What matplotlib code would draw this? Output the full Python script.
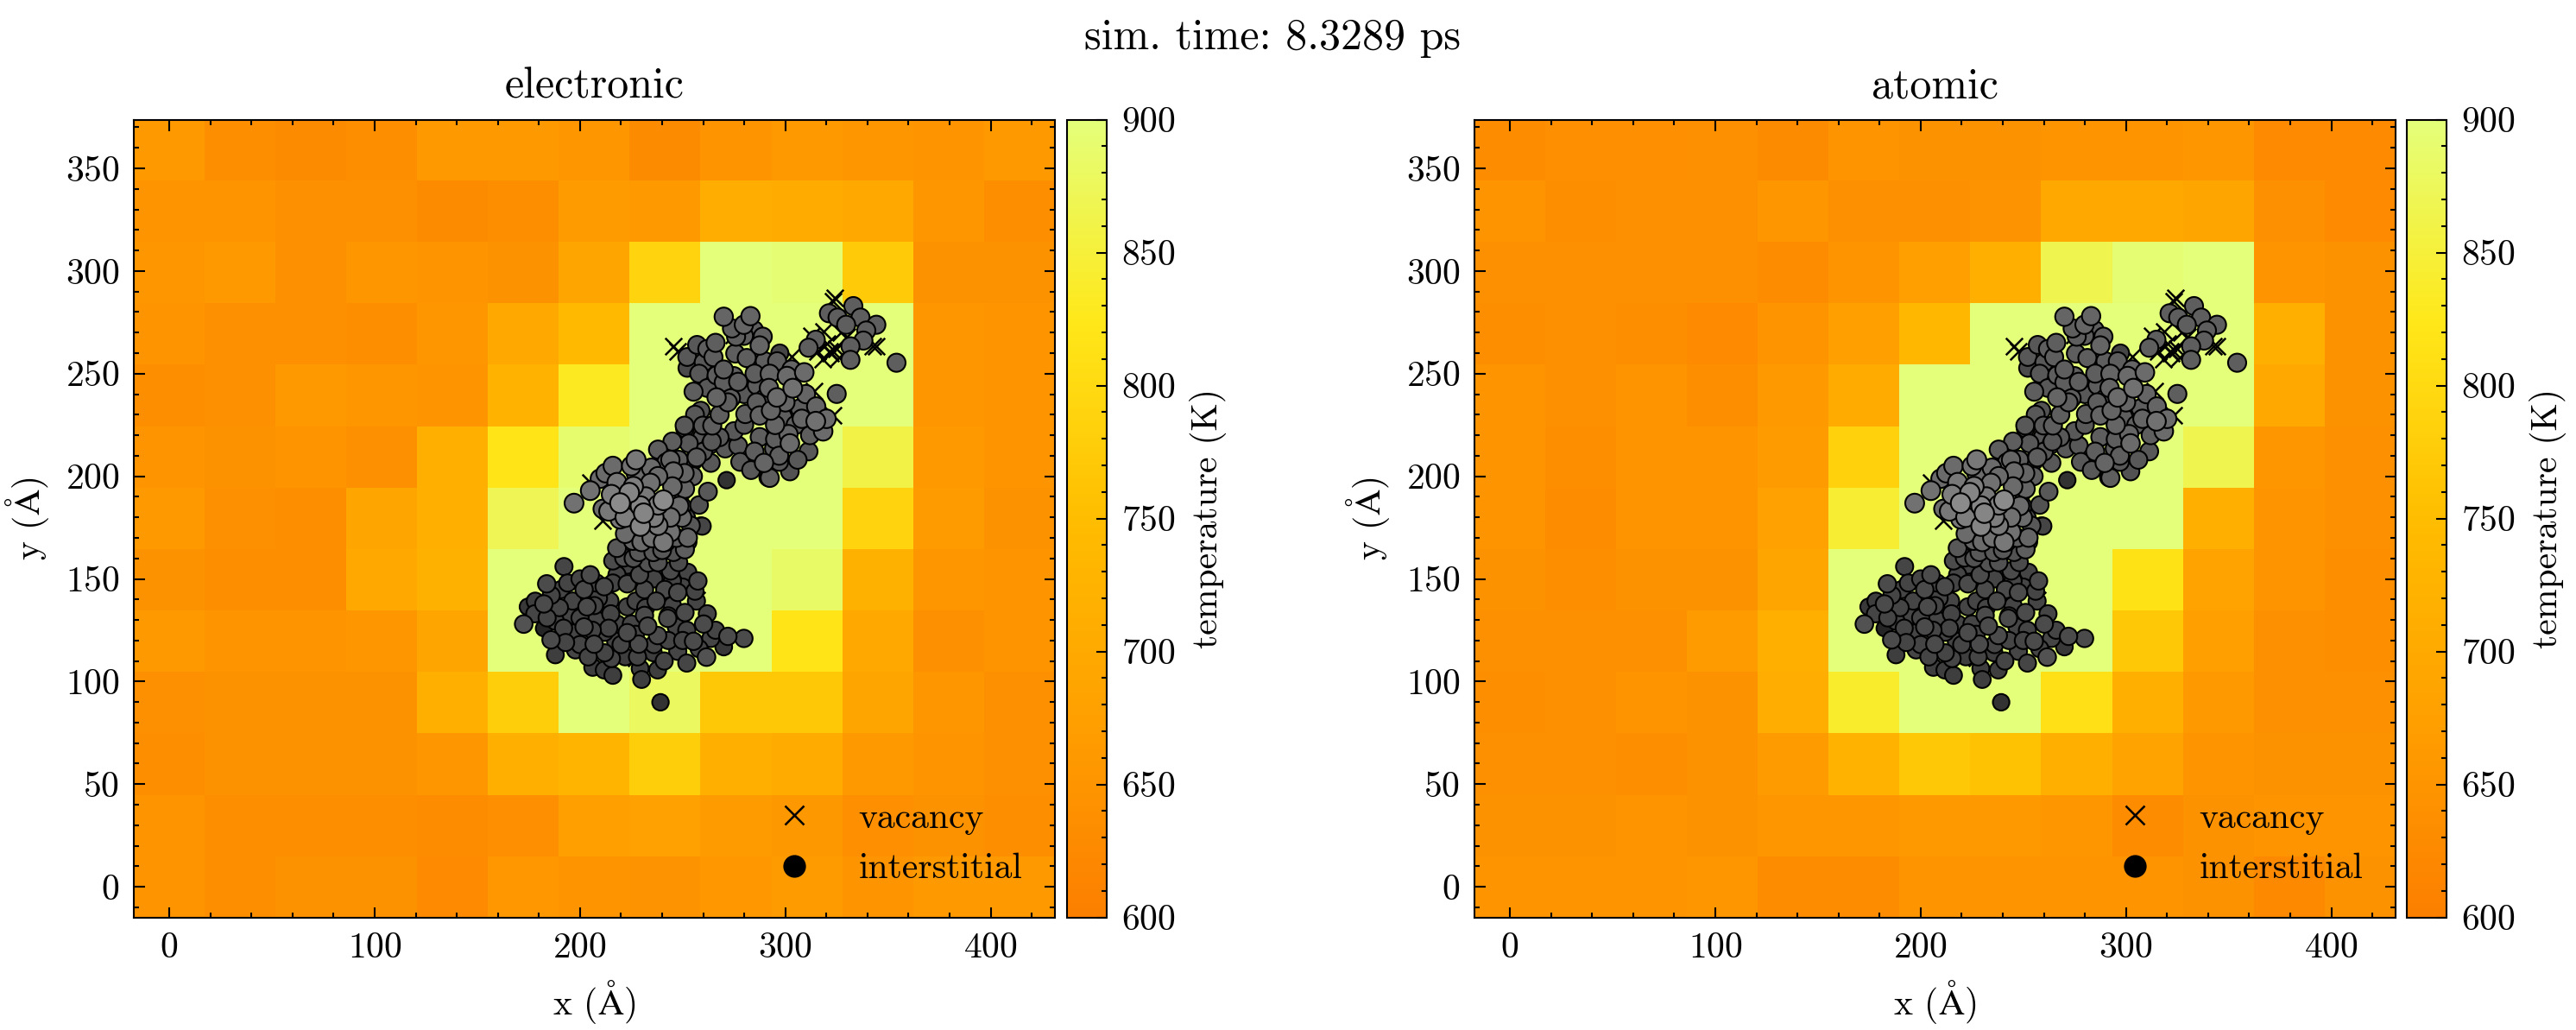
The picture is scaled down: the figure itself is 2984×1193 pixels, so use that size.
import numpy as np
import matplotlib
matplotlib.use("Agg")
import matplotlib.pyplot as plt
from matplotlib.lines import Line2D
from matplotlib.ticker import MultipleLocator

# --- data ---
sim_time_ps = 8.3289
panel_titles = ["electronic", "atomic"]

# cell centres of the temperature grid (Angstrom)
x_centres = [0.0, 34.5, 69.0, 103.5, 138.0, 172.5, 207.0, 241.5, 276.0, 310.5, 345.0, 379.5, 414.0]
y_centres = [0.0, 29.9, 59.8, 89.7, 119.6, 149.5, 179.4, 209.3, 239.2, 269.1, 299.0, 328.9, 358.8]

# temperature (K), top row first
temp_electronic = [
    [660, 635, 630, 635, 660, 660, 655, 630, 650, 660, 655, 650, 660],
    [650, 650, 640, 640, 630, 635, 665, 660, 710, 705, 700, 655, 635],
    [655, 660, 640, 655, 650, 645, 690, 790, 900, 895, 775, 645, 645],
    [650, 640, 640, 635, 655, 700, 745, 900, 900, 900, 900, 655, 650],
    [635, 640, 660, 655, 650, 725, 830, 900, 900, 900, 900, 655, 650],
    [650, 645, 650, 640, 715, 820, 890, 900, 900, 900, 860, 660, 650],
    [660, 640, 635, 690, 715, 870, 900, 900, 900, 900, 790, 665, 645],
    [645, 635, 635, 700, 720, 900, 900, 900, 900, 885, 720, 655, 650],
    [660, 650, 650, 655, 690, 900, 900, 900, 900, 820, 700, 640, 650],
    [640, 645, 645, 645, 715, 780, 900, 880, 770, 770, 690, 655, 640],
    [635, 645, 645, 645, 655, 715, 730, 780, 715, 705, 660, 650, 640],
    [650, 635, 635, 635, 632, 638, 675, 680, 665, 658, 638, 645, 635],
    [650, 635, 645, 645, 628, 657, 650, 648, 657, 665, 650, 660, 660],
]
temp_atomic = [
    [632, 638, 638, 640, 630, 650, 645, 645, 650, 650, 655, 628, 628],
    [650, 635, 640, 640, 655, 640, 640, 648, 700, 700, 690, 640, 628],
    [640, 640, 640, 640, 632, 650, 675, 715, 865, 895, 900, 650, 645],
    [635, 640, 635, 628, 650, 675, 735, 900, 900, 900, 900, 715, 645],
    [650, 640, 650, 635, 660, 705, 900, 900, 900, 900, 900, 700, 645],
    [650, 635, 650, 650, 665, 785, 900, 900, 900, 900, 865, 655, 640],
    [650, 632, 650, 650, 680, 845, 900, 900, 900, 900, 715, 650, 640],
    [645, 635, 645, 645, 690, 900, 900, 900, 900, 815, 685, 650, 635],
    [640, 640, 640, 665, 715, 900, 900, 900, 900, 770, 675, 640, 635],
    [635, 640, 650, 645, 710, 840, 900, 900, 810, 715, 660, 640, 640],
    [640, 640, 635, 645, 665, 725, 770, 760, 715, 685, 650, 645, 645],
    [645, 645, 650, 645, 655, 655, 660, 660, 655, 632, 645, 650, 650],
    [650, 650, 650, 655, 632, 632, 650, 650, 650, 650, 645, 625, 645],
]

# interstitial positions (Angstrom) and relative depth (0 deep .. 1 near surface)
interstitial_x = [
    # lower cluster
    192.2, 216.0, 223.0, 183.8, 174.7, 182.4, 172.6, 182.4, 185.9, 190.8, 202.0, 203.4, 195.0, 202.0,
    206.9, 197.8, 206.2, 211.8, 215.3, 218.1, 223.0, 214.6, 231.4, 241.3, 244.1, 252.5, 257.4, 247.6,
    256.7, 231.4, 242.7, 251.1, 260.2, 246.9, 237.8, 228.6, 223.0, 217.4, 235.7, 247.6, 255.3, 263.7,
    270.0, 279.8, 261.6, 229.3, 237.8, 239.2, 223.0, 209.0, 196.4, 197.8, 188.0, 178.2, 211.8, 227.2,
    237.1, 239.9, 234.3,
    190.0, 208.0, 215.0, 225.0, 233.0, 245.0, 252.0, 200.0, 212.0, 228.0, 194.0, 205.0, 250.0, 218.0,
    178.0, 186.0, 184.0, 192.0, 200.0, 207.0, 212.0, 220.0, 227.0, 236.0, 243.0, 250.0, 258.0, 266.0,
    272.0, 262.0, 256.0, 245.0, 236.0, 228.0, 216.0, 208.0, 200.0, 214.0, 222.0, 204.0, 193.0, 188.0,
    216.0, 230.0, 241.0, 252.0, 232.0, 243.0, 206.0,
    # neck
    242.0, 252.4, 221.4, 233.2, 228.6, 235.7, 245.5, 251.1,
    226.0, 238.0, 248.0, 218.0, 240.0, 229.0,
    # upper right cluster
    321.2, 325.4, 333.1, 336.6, 329.6, 344.3, 339.4, 338.0, 331.7, 331.7, 354.1, 314.8, 311.3, 325.0,
    # upper main cluster
    270.0, 279.8, 284.7, 279.8, 287.5, 275.6, 281.2, 283.3, 297.3, 252.2, 252.2, 260.2, 266.5, 274.9,
    270.0, 255.3, 266.5, 273.5, 258.8, 292.4, 300.8, 303.6, 309.2, 286.1, 295.9, 280.5, 287.5, 298.7,
    307.1, 314.8, 318.4, 251.1, 264.4, 259.5, 263.7, 270.7, 277.0, 287.5, 301.5, 302.2, 294.5, 283.3,
    289.6, 292.4, 302.2, 311.3, 255.3, 263.7, 271.4,
    290.0, 280.0, 295.0, 305.0, 285.0, 297.0, 275.0, 268.0, 310.0, 290.0, 262.0, 276.0,
    258.0, 265.0, 270.0, 285.0, 292.0, 300.0, 308.0, 312.0, 295.0, 280.0, 272.0, 262.0, 256.0, 268.0,
    278.0, 297.0, 306.0, 286.0, 277.0, 293.0, 303.0, 296.0, 289.0, 283.0, 274.0, 266.0, 257.0, 315.0,
    320.0, 260.0, 253.0, 248.0,
    # middle (lighter) cluster
    209.7, 197.1, 215.3, 219.5, 229.4, 240.6, 219.5, 229.4, 240.6, 234.3, 245.5, 227.2, 251.1, 262.3,
    259.5, 249.7, 252.5, 244.1, 225.8, 211.1, 248.3, 291.7, 283.3,
    227.3, 212.5, 234.7, 242.1, 250.9, 256.8, 264.2, 245.0, 250.9, 259.8, 249.7, 251.8, 258.8, 249.7,
    236.0, 224.0, 232.0, 245.0, 238.0, 222.0, 235.0,
    205.0, 218.0, 226.0, 214.0, 222.0, 231.0, 238.0, 244.0, 238.0, 230.0, 244.0, 238.0, 225.0, 216.0,
    255.0, 258.0, 254.0, 247.0,
]
interstitial_y = [
    156.0, 158.8, 156.7, 147.6, 136.4, 137.8, 128.0, 125.9, 120.3, 144.8, 144.8, 136.4, 132.2, 126.6,
    118.2, 115.4, 106.9, 105.6, 111.2, 128.0, 147.6, 139.2, 144.8, 144.8, 153.9, 153.2, 149.0, 143.4,
    139.2, 132.2, 130.8, 133.6, 128.0, 126.6, 122.4, 118.2, 123.8, 119.6, 114.0, 114.7, 119.6, 121.0,
    116.8, 121.0, 111.9, 106.3, 105.6, 89.9, 136.4, 140.6, 139.2, 123.8, 129.4, 139.2, 146.2, 139.2,
    139.2, 150.4, 156.0,
    136.0, 130.0, 133.0, 128.0, 127.0, 137.0, 125.0, 118.0, 114.0, 112.0, 148.0, 152.0, 146.0, 152.0,
    133.0, 142.0, 131.0, 126.0, 131.0, 137.0, 124.0, 118.0, 123.0, 118.0, 120.0, 120.0, 116.0, 125.0,
    122.0, 133.0, 144.0, 149.0, 150.0, 150.0, 148.0, 148.0, 150.0, 126.0, 112.0, 112.0, 119.0, 113.0,
    103.0, 101.0, 110.0, 109.0, 136.0, 132.0, 125.0,
    168.1, 168.1, 160.3, 157.8, 163.0, 163.0, 163.0, 164.4,
    160.0, 158.0, 158.0, 165.0, 164.0, 152.0,
    279.4, 277.3, 282.9, 277.3, 273.8, 273.8, 271.0, 266.1, 263.3, 256.7, 255.3, 266.5, 262.6, 240.1,
    277.7, 273.8, 271.2, 268.4, 263.7, 259.8, 257.6, 256.7, 260.0, 258.1, 252.7, 255.5, 249.2, 248.8,
    245.7, 241.2, 238.4, 238.0, 232.0, 249.9, 248.8, 242.9, 250.6, 244.3, 238.4, 230.3, 229.6, 228.9,
    233.1, 226.8, 221.9, 223.3, 224.7, 219.1, 215.6, 213.5, 214.9, 219.1, 220.5, 216.0, 213.5, 205.1,
    206.5, 199.2, 202.3, 212.1, 207.6, 206.5, 198.1,
    238.0, 240.0, 225.0, 225.0, 212.0, 207.0, 222.0, 230.0, 240.0, 256.0, 262.0, 268.0,
    250.0, 258.0, 252.0, 250.0, 243.0, 236.0, 228.0, 220.0, 218.0, 225.0, 236.0, 243.0, 230.0, 219.0,
    207.0, 210.0, 208.0, 236.0, 246.0, 232.0, 252.0, 256.0, 268.0, 278.0, 272.0, 265.0, 264.0, 234.0,
    228.0, 212.0, 216.0, 208.0,
    198.8, 186.9, 191.1, 186.9, 185.5, 188.3, 179.2, 175.7, 167.9, 196.7, 202.3, 201.6, 193.9, 192.5,
    175.7, 179.9, 170.1, 172.8, 168.6, 184.1, 185.5, 199.5, 203.0,
    208.0, 201.5, 204.1, 206.7, 201.5, 209.2, 216.9, 216.9, 224.7, 224.7, 192.5, 179.8, 175.9, 185.4,
    180.0, 192.0, 190.0, 195.0, 213.0, 172.0, 170.0,
    193.0, 197.0, 195.0, 183.0, 180.0, 182.0, 186.0, 180.0, 176.0, 168.0, 208.0, 200.0, 205.0, 205.0,
    200.0, 186.0, 176.0, 170.0,
]
interstitial_depth = [
    0.30, 0.35, 0.30, 0.35, 0.20, 0.35, 0.40, 0.05, 0.35, 0.30, 0.35, 0.35, 0.30, 0.35,
    0.35, 0.30, 0.25, 0.25, 0.30, 0.30, 0.35, 0.30, 0.35, 0.35, 0.35, 0.30, 0.35, 0.35,
    0.30, 0.35, 0.35, 0.35, 0.35, 0.30, 0.35, 0.35, 0.35, 0.30, 0.25, 0.30, 0.35, 0.30,
    0.20, 0.35, 0.40, 0.25, 0.25, 0.15, 0.30, 0.30, 0.30, 0.30, 0.30, 0.25, 0.35, 0.30,
    0.35, 0.30, 0.30,
    0.30, 0.30, 0.30, 0.30, 0.35, 0.30, 0.30, 0.30, 0.30, 0.30, 0.30, 0.35, 0.30, 0.30,
    0.30, 0.30, 0.30, 0.30, 0.30, 0.30, 0.30, 0.30, 0.30, 0.30, 0.30, 0.30, 0.30, 0.30,
    0.35, 0.30, 0.30, 0.30, 0.30, 0.30, 0.30, 0.30, 0.30, 0.30, 0.25, 0.30, 0.30, 0.25,
    0.25, 0.25, 0.30, 0.30, 0.30, 0.30, 0.30,
    0.50, 0.45, 0.40, 0.40, 0.45, 0.45, 0.40, 0.50,
    0.40, 0.40, 0.35, 0.45, 0.45, 0.35,
    0.50, 0.50, 0.50, 0.50, 0.50, 0.50, 0.50, 0.50, 0.50, 0.50, 0.50, 0.50, 0.50, 0.50,
    0.55, 0.55, 0.50, 0.50, 0.55, 0.50, 0.50, 0.45, 0.30, 0.45, 0.35, 0.45, 0.50, 0.50,
    0.50, 0.50, 0.55, 0.50, 0.40, 0.55, 0.60, 0.65, 0.60, 0.50, 0.60, 0.50, 0.55, 0.50,
    0.50, 0.65, 0.60, 0.40, 0.50, 0.45, 0.45, 0.45, 0.45, 0.50, 0.55, 0.60, 0.50, 0.45,
    0.55, 0.50, 0.40, 0.45, 0.45, 0.45, 0.15,
    0.50, 0.45, 0.55, 0.50, 0.50, 0.45, 0.45, 0.50, 0.55, 0.50, 0.50, 0.50,
    0.45, 0.50, 0.50, 0.50, 0.55, 0.55, 0.55, 0.50, 0.50, 0.45, 0.50, 0.45, 0.45, 0.45,
    0.45, 0.50, 0.45, 0.50, 0.50, 0.55, 0.55, 0.50, 0.50, 0.55, 0.50, 0.50, 0.45, 0.55,
    0.60, 0.45, 0.45, 0.50,
    0.60, 0.65, 0.75, 0.85, 0.80, 0.85, 0.70, 0.80, 0.70, 0.65, 0.60, 0.60, 0.55, 0.45,
    0.30, 0.60, 0.55, 0.65, 0.55, 0.60, 0.60, 0.45, 0.45,
    0.70, 0.60, 0.60, 0.55, 0.55, 0.50, 0.45, 0.50, 0.45, 0.45, 0.40, 0.35, 0.20, 0.40,
    0.75, 0.80, 0.70, 0.60, 0.50, 0.60, 0.65,
    0.65, 0.70, 0.75, 0.70, 0.75, 0.80, 0.75, 0.65, 0.70, 0.60, 0.55, 0.60, 0.65, 0.60,
    0.50, 0.40, 0.45, 0.50,
]

# vacancy positions (Angstrom)
vacancy_x = [247.4, 245.5, 323.2, 324.0, 320.3, 321.7, 324.7, 342.4, 344.3, 315.8, 312.9, 318.4,
             321.9, 330.0, 327.0, 318.0, 326.0, 274.9, 303.0, 314.1, 323.3, 205.2, 211.1, 180.1,
             227.3, 256.8]
vacancy_y = [260.7, 263.3, 285.2, 287.1, 264.6, 260.7, 262.0, 263.3, 263.3, 260.7, 268.4, 270.3,
             259.8, 268.0, 270.0, 257.0, 258.0, 268.9, 258.4, 241.5, 229.6, 196.9, 178.4, 133.3,
             111.4, 139.7]

# --- style (science-like) ---
plt.rcParams.update({
    "font.family": "serif",
    "font.serif": ["cmr10", "DejaVu Serif"],
    "mathtext.fontset": "cm",
    "axes.formatter.use_mathtext": True,
    "font.size": 10,
    "axes.titlesize": 12,
    "axes.linewidth": 0.5,
    "xtick.direction": "in",
    "ytick.direction": "in",
    "xtick.top": True,
    "ytick.right": True,
    "xtick.major.size": 3,
    "ytick.major.size": 3,
    "xtick.minor.size": 1.5,
    "ytick.minor.size": 1.5,
    "xtick.major.width": 0.5,
    "ytick.major.width": 0.5,
    "xtick.minor.width": 0.5,
    "ytick.minor.width": 0.5,
    "xtick.major.pad": 4,
    "ytick.major.pad": 4,
})

W, H = 2984, 1193
fig = plt.figure(figsize=(W / 300, H / 300), dpi=300)

dx = x_centres[1] - x_centres[0]
dy = y_centres[1] - y_centres[0]
extent = [x_centres[0] - dx / 2, x_centres[-1] + dx / 2,
          y_centres[0] - dy / 2, y_centres[-1] + dy / 2]

# deeper atoms drawn first, darker and a bit smaller
depth = np.array(interstitial_depth)
order = np.argsort(depth, kind="stable")
ix = np.array(interstitial_x)[order]
iy = np.array(interstitial_y)[order]
d = depth[order]
grey = 0.12 + 0.50 * d
face = np.stack([grey, grey, grey], axis=1)
sizes = (4.4 + 1.3 * d) ** 2

bottom = (H - 1062.7) / H
height = 924.2 / H
ax_w = 1067 / W
cb_w = 46 / W
lefts = [155 / W, 1708 / W]
cb_lefts = [1236 / W, 2788 / W]

for i, temps in enumerate([temp_electronic, temp_atomic]):
    ax = fig.add_axes([lefts[i], bottom, ax_w, height])
    im = ax.imshow(np.array(temps), cmap="Wistia_r", vmin=600, vmax=900,
                   extent=extent, origin="upper", aspect="auto", interpolation="nearest")
    ax.scatter(vacancy_x, vacancy_y, marker="x", color="k", s=22, linewidths=0.6, zorder=2)
    ax.scatter(ix, iy, s=sizes, c=face, edgecolors="k", linewidths=0.5, zorder=3)
    ax.set_xlim(extent[0], extent[1])
    ax.set_ylim(extent[2], extent[3])
    ax.xaxis.set_major_locator(MultipleLocator(100))
    ax.xaxis.set_minor_locator(MultipleLocator(20))
    ax.yaxis.set_major_locator(MultipleLocator(50))
    ax.yaxis.set_minor_locator(MultipleLocator(10))
    ax.set_xlabel(r"x ($\mathrm{\AA}$)")
    ax.set_ylabel(r"y ($\mathrm{\AA}$)")
    ax.set_title(panel_titles[i], pad=6)

    handles = [
        Line2D([], [], marker="x", color="k", ls="none", markersize=5.3, markeredgewidth=0.6),
        Line2D([], [], marker="o", color="k", ls="none", markersize=5.3),
    ]
    ax.legend(handles, ["vacancy", "interstitial"], loc="lower right", frameon=False)

    cax = fig.add_axes([cb_lefts[i], bottom, cb_w, height])
    cb = fig.colorbar(im, cax=cax)
    cb.set_ticks([600, 650, 700, 750, 800, 850, 900])
    cb.ax.yaxis.set_minor_locator(MultipleLocator(10))
    cb.ax.tick_params(which="both", direction="in", right=True, left=False)
    cb.outline.set_linewidth(0.5)
    cb.set_label("temperature (K)")

fig.text(1474.5 / W, 1 - 57.4 / H, f"sim. time: {sim_time_ps} ps", ha="center",
         va="baseline", fontsize=12)

fig.savefig("out.png", dpi=300)
